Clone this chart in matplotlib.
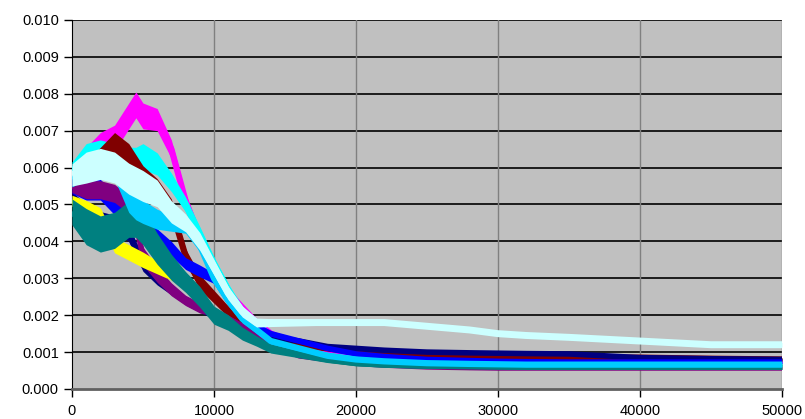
import numpy as np
import matplotlib.pyplot as plt

plt.rcParams['font.family'] = ['Liberation Sans', 'DejaVu Sans']

iters = [0, 1000, 2000, 3000, 4000, 4500, 5000, 6000, 7000, 8000, 9000, 10000,
         11000, 12000, 13000, 14000, 16000, 18000, 20000, 22000, 25000, 28000,
         30000, 32000, 35000, 40000, 45000, 50000]

# noise envelope (vertical spread of a band)
spread = [0.0005, 0.0007, 0.0007, 0.0007, 0.0007, 0.0007, 0.0007, 0.0006, 0.0005,
          0.0004, 0.0004, 0.00035, 0.0003, 0.00025, 0.0002, 0.00018, 0.00015, 0.00012,
          0.0001, 0.0001, 0.0001, 0.0001, 0.0001, 0.0001, 0.0001, 0.0001, 0.0001, 0.0001]

magenta = [0.0057, 0.0062, 0.0066, 0.0068, 0.0074, 0.0077, 0.0074, 0.0073, 0.0065,
           0.0051, 0.0041, 0.0033, 0.0026, 0.0022, 0.0018, 0.0015, 0.0012, 0.00095,
           0.00085, 0.0008, 0.00075, 0.00073, 0.00072, 0.00071, 0.0007, 0.0007, 0.0007, 0.0007]
cyan = [0.0059, 0.0063, 0.0064, 0.0063, 0.0062, 0.0062, 0.0063, 0.0061, 0.0056,
        0.0050, 0.0042, 0.0034, 0.0027, 0.0021, 0.0018, 0.0014, 0.00105, 0.0009,
        0.0008, 0.00075, 0.0007, 0.00068, 0.00067, 0.00066, 0.00066, 0.00066, 0.00066, 0.00066]
maroon = [0.0055, 0.0058, 0.0062, 0.0066, 0.0063, 0.0060, 0.0057, 0.0054, 0.0049,
          0.0036, 0.0029, 0.0025, 0.0021, 0.0017, 0.0015, 0.0013, 0.0012, 0.0011,
          0.001, 0.00095, 0.0009, 0.00088, 0.00087, 0.00086, 0.00085, 0.00085, 0.00082, 0.0008]
navy = [0.0052, 0.0048, 0.0046, 0.0045, 0.0042, 0.0038, 0.0034, 0.0030, 0.0027,
        0.0024, 0.0022, 0.0020, 0.0018, 0.0016, 0.0015, 0.0014, 0.0013, 0.00115,
        0.0011, 0.00105, 0.001, 0.00098, 0.00097, 0.00096, 0.00095, 0.00085, 0.00082, 0.0008]
blue = [0.0055, 0.0054, 0.0054, 0.0050, 0.0047, 0.0046, 0.0045, 0.0041, 0.0038,
        0.0034, 0.0032, 0.0030, 0.0024, 0.0019, 0.0017, 0.0015, 0.0013, 0.0011,
        0.00095, 0.00088, 0.0008, 0.00077, 0.00075, 0.00074, 0.00073, 0.00073, 0.00073, 0.00073]
purple = [0.0055, 0.0054, 0.0054, 0.0053, 0.0050, 0.0045, 0.0036, 0.0031, 0.0027,
          0.0024, 0.0022, 0.0021, 0.0019, 0.0017, 0.0014, 0.0012, 0.0009, 0.0008,
          0.0007, 0.00065, 0.0006, 0.00058, 0.00057, 0.00057, 0.00057, 0.00057, 0.00057, 0.00057]
yellow = [0.0051, 0.0049, 0.0047, 0.0039, 0.0037, 0.0036, 0.0035, 0.0033, 0.0031,
          0.0030, 0.0026, 0.0021, 0.0018, 0.0015, 0.0013, 0.0011, 0.00095, 0.0008,
          0.0007, 0.00068, 0.00066, 0.00065, 0.00065, 0.00065, 0.00065, 0.00065, 0.00065, 0.00065]
teal = [0.0048, 0.0044, 0.0042, 0.0043, 0.0046, 0.0046, 0.0044, 0.0038, 0.0033,
        0.0029, 0.0025, 0.0020, 0.0018, 0.0015, 0.0013, 0.0011, 0.00095, 0.0008,
        0.0007, 0.00066, 0.00063, 0.00062, 0.00061, 0.0006, 0.0006, 0.0006, 0.0006, 0.0006]
skyblue = [0.0057, 0.0060, 0.0062, 0.0060, 0.0051, 0.0049, 0.0048, 0.0046, 0.0045,
           0.0044, 0.0039, 0.0030, 0.0024, 0.0019, 0.0016, 0.0013, 0.0011, 0.0009,
           0.0008, 0.00075, 0.0007, 0.00068, 0.00067, 0.00066, 0.00066, 0.00066, 0.00066, 0.00066]
lightcyan = [0.0058, 0.0060, 0.0061, 0.0060, 0.0057, 0.0056, 0.0055, 0.0053, 0.0048,
             0.0045, 0.0040, 0.0033, 0.0026, 0.0021, 0.0018, 0.0018, 0.0018, 0.0018,
             0.0018, 0.0018, 0.0017, 0.0016, 0.0015, 0.00145, 0.0014, 0.0013, 0.0012, 0.0012]

# (values, colour, band scale, line width) in drawing order
runs = [
    (magenta, '#FF00FF', 1.0, 4.5),
    (cyan, '#00FFFF', 1.0, 4.5),
    (maroon, '#800000', 1.0, 4.5),
    (navy, '#000080', 0.6, 4.0),
    (blue, '#0000FF', 0.8, 4.0),
    (purple, '#800080', 0.7, 4.0),
    (yellow, '#FFFF00', 0.6, 4.0),
    (teal, '#008080', 1.4, 4.5),
    (skyblue, '#00CCFF', 0.9, 4.5),
    (lightcyan, '#CCFFFF', 1.2, 5.0),
]

fig = plt.figure(figsize=(8.05, 4.19), dpi=100)
ax = fig.add_axes([0.0894, 0.0716, 0.8820, 0.8807])
ax.set_facecolor('#C0C0C0')

x = np.array(iters)
s = np.array(spread)
for vals, col, k, lw in runs:
    y = np.array(vals)
    ax.fill_between(x, y - k * s / 2, y + k * s / 2, color=col, lw=0, zorder=3)
    ax.plot(x, y, color=col, lw=lw, solid_capstyle='butt', zorder=3)

ax.set_xlim(0, 50000)
ax.set_ylim(0, 0.010)
ax.set_xticks(np.arange(0, 50001, 10000))
ax.set_yticks(np.arange(0, 0.0101, 0.001))
ax.set_yticklabels(['%.3f' % v for v in np.arange(0, 0.0101, 0.001)])

for v in np.arange(0.001, 0.0101, 0.001):
    ax.axhline(v, color='black', lw=1.2, zorder=1)
for v in range(10000, 50001, 10000):
    ax.axvline(v, color='#808080', lw=1.0, zorder=1)

for side in ['top', 'right']:
    ax.spines[side].set_visible(False)
ax.spines['left'].set_color('black')
ax.spines['bottom'].set_color('#606060')
ax.spines['bottom'].set_linewidth(2)
ax.spines['bottom'].set_zorder(5)
ax.tick_params(direction='out', length=6, width=1, labelsize=10.5, colors='black')
ax.tick_params(axis='x', pad=5)

fig.savefig('out.png', dpi=100)
